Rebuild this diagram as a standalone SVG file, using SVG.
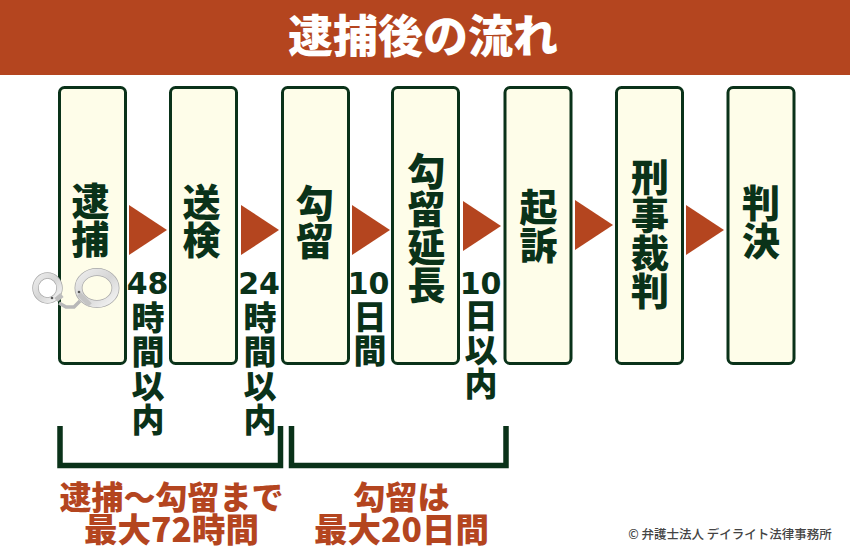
<svg xmlns="http://www.w3.org/2000/svg" width="850" height="556" viewBox="0 0 850 556">
<defs>
<linearGradient id="steel" x1="0" y1="0" x2="1" y2="1"><stop offset="0" stop-color="#ececec"/><stop offset="0.5" stop-color="#d6d6d6"/><stop offset="1" stop-color="#f4f4f4"/></linearGradient>
</defs>
<style>
text{font-family:"Noto Sans CJK JP","Noto Sans",sans-serif;text-anchor:middle}
.box{fill:#fefde9;stroke:#0a3219;stroke-width:3}
.n{font-size:38px;font-weight:900;fill:#0a3219;writing-mode:vertical-rl}
.d{font-size:33px;font-weight:900;fill:#0a3219;writing-mode:vertical-rl;letter-spacing:1px}
.num{font-family:"DejaVu Sans",sans-serif;font-size:30px;font-weight:700;fill:#0a3219}
.r{font-size:32px;font-weight:900;fill:#b4451f}
.r2{font-size:33.500px;font-weight:900;fill:#b4451f}
.a{fill:#b4451f}
.b{fill:none;stroke:#0a3219;stroke-width:5.500}
.cuff{fill:none;stroke:url(#steel)}
.edge{fill:none;stroke:#a8a8a8}
</style>
<rect width="850" height="75" fill="#b4451f"/>
<text id="title" x="423" y="53" style="font-size:45px;font-weight:900;fill:#ffffff">逮捕後の流れ</text>
<g id="node-taiho"><rect class="box" x="59.500" y="87.500" width="66" height="276" rx="5"/><text class="n" x="90.500" y="220">逮捕</text></g>
<g id="node-soken"><rect class="box" x="170.500" y="87.500" width="66" height="276" rx="5"/><text class="n" x="201.500" y="221">送検</text></g>
<g id="node-koryu"><rect class="box" x="282.500" y="87.500" width="66" height="276" rx="5"/><text class="n" x="315" y="222">勾留</text></g>
<g id="node-encho"><rect class="box" x="392.500" y="87.500" width="66" height="276" rx="5"/><text class="n" x="426.500" y="228">勾留延長</text></g>
<g id="node-kiso"><rect class="box" x="505" y="87.500" width="66" height="276" rx="5"/><text class="n" x="538.500" y="226">起訴</text></g>
<g id="node-keiji"><rect class="box" x="616.500" y="87.500" width="66" height="276" rx="5"/><text class="n" x="650" y="234">刑事裁判</text></g>
<g id="node-hanketsu"><rect class="box" x="728" y="87.500" width="66" height="276" rx="5"/><text class="n" x="761" y="222">判決</text></g>
<g id="connectors">
<polygon class="a" points="129,205 167,230 129,255"/>
<polygon class="a" points="241,205 279,230 241,255"/>
<polygon class="a" points="352,205 390,230 352,255"/>
<polygon class="a" points="463,201 501,226 463,251"/>
<polygon class="a" points="575,200 613,225 575,250"/>
<polygon class="a" points="686,205 724,230 686,255"/>
</g>
<g id="handcuffs">
<ellipse class="edge" cx="47.500" cy="288" rx="12" ry="12.500" stroke-width="6.500"/>
<ellipse class="cuff" cx="47.500" cy="288" rx="12" ry="12.500" stroke-width="5"/>
<ellipse class="edge" cx="97" cy="288" rx="18.500" ry="16" stroke-width="8"/>
<ellipse class="cuff" cx="97" cy="288" rx="18.500" ry="16" stroke-width="6.500"/>
<path d="M79 294 L90 305" fill="none" stroke="#c4c4c4" stroke-width="5"/>
<path d="M56 300 L62 295" fill="none" stroke="#bdbdbd" stroke-width="5"/>
<path d="M59 303 L66 307 L74 307 L80 301" fill="none" stroke="#b8b8b8" stroke-width="3.500"/>
<circle cx="52" cy="298" r="1.300" fill="#555555"/>
<circle cx="79" cy="292" r="1.300" fill="#555555"/>
</g>
<g id="durations">
<text class="num" x="147.500" y="294">48</text><text class="d" x="148" y="369">時間以内</text>
<text class="num" x="259" y="294">24</text><text class="d" x="260" y="369">時間以内</text>
<text class="num" x="368.500" y="294">10</text><text class="d" x="370" y="334">日間</text>
<text class="num" x="480.500" y="294">10</text><text class="d" x="481" y="350">日以内</text>
</g>
<g id="brackets">
<path class="b" d="M60 426V465.500H280.500V426"/>
<path class="b" d="M291.500 426V465.500H506V426"/>
</g>
<g id="summary">
<text class="r" x="171.500" y="508.500">逮捕～勾留まで</text><text class="r2" x="171.500" y="542">最大72時間</text>
<text class="r" x="401.500" y="508.500">勾留は</text><text class="r2" x="401.500" y="542">最大20日間</text>
</g>
<text x="730" y="539" style="font-size:12.500px;font-weight:500;fill:#444444">© 弁護士法人 デイライト法律事務所</text>
</svg>
